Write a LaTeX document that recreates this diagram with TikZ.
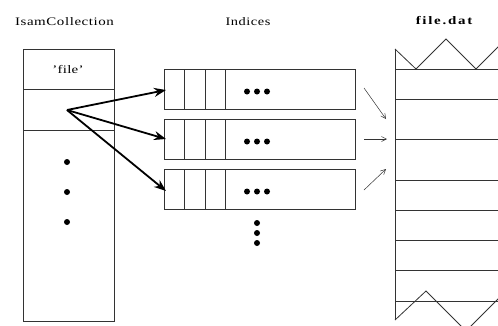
\documentclass[tikz,border=0pt]{standalone}
\usepackage{fontspec}
\setmainfont{Liberation Serif}
\usetikzlibrary{arrows.meta}
\begin{document}
\begin{tikzpicture}[x=1pt,y=-1pt,
  box/.style={draw=black!80,line width=0.8pt},
  title/.style={font=\fontsize{11.5}{13}\selectfont,inner sep=0pt},
  dot/.style={circle,fill=black,inner sep=0pt,minimum size=6pt},
  bigarrow/.style={line width=1.8pt,-{Stealth[length=12pt,width=9pt]}},
  smallarrow/.style={line width=0.5pt,draw=black!80,-{Straight Barb[length=5pt,width=5pt]}}]
\useasboundingbox (0,0) rectangle (498,325);
% titles
\node[title] (t1) at (64.5,22) {\addfontfeature{FakeStretch=1.3,LetterSpace=5}IsamCollection};
\node[title] (t2) at (248,22) {\addfontfeature{FakeStretch=1.25,LetterSpace=5}Indices};
\node[title,font=\fontsize{11.5}{13}\selectfont\bfseries] (t3) at (444,21) {\addfontfeature{FakeStretch=1.3,LetterSpace=15}file.dat};
% IsamCollection box
\draw[box] (23,49) rectangle (114,321);
\draw[box] (23,89) -- (114,89);
\draw[box] (23,130) -- (114,130);
\node[title] (f) at (68,70) {\addfontfeature{FakeStretch=1.3,LetterSpace=2}'file'};
\coordinate (src) at (67,110);
\node[dot] (d1) at (67,162) {};
\node[dot] (d2) at (67,192) {};
\node[dot] (d3) at (67,222) {};
% index boxes
\foreach \i/\y in {1/69,2/119,3/169}{
  \draw[box] (164,\y) rectangle (355,\y+40);
  \draw[box] (184,\y) -- (184,\y+40);
  \draw[box] (205,\y) -- (205,\y+40);
  \draw[box] (225,\y) -- (225,\y+40);
  \node[dot] (a\i) at (247,\y+22.5) {};
  \node[dot] (b\i) at (257,\y+22.5) {};
  \node[dot] (c\i) at (267,\y+22.5) {};
}
\coordinate (e1) at (166,90);
\coordinate (e2) at (166,139);
\coordinate (e3) at (166,191);
\draw[bigarrow] (src) -- (e1);
\draw[bigarrow] (src) -- (e2);
\draw[bigarrow] (src) -- (e3);
\node[dot] (v1) at (257,223) {};
\node[dot] (v2) at (257,233) {};
\node[dot] (v3) at (257,243) {};
% file.dat
\begin{scope}
\clip (0,0) rectangle (498,325);
\draw[box] (395,49) -- (395,320);
\draw[box] (395,49) -- (416,69) -- (446,39) -- (476,69) -- (506,39);
\draw[box] (395,320) -- (426,291) -- (466,331) -- (506,291);
\foreach \y in {69,99,139,180,210,240,270,301}{
  \draw[box] (395,\y) -- (498,\y);
}
\end{scope}
\coordinate (s1) at (364,88);   \coordinate (r1) at (386,119);
\coordinate (s2) at (364,139);  \coordinate (r2) at (387,139);
\coordinate (s3) at (364,190);  \coordinate (r3) at (386,169);
\draw[smallarrow] (s1) -- (r1);
\draw[smallarrow] (s2) -- (r2);
\draw[smallarrow] (s3) -- (r3);
\end{tikzpicture}
\end{document}
